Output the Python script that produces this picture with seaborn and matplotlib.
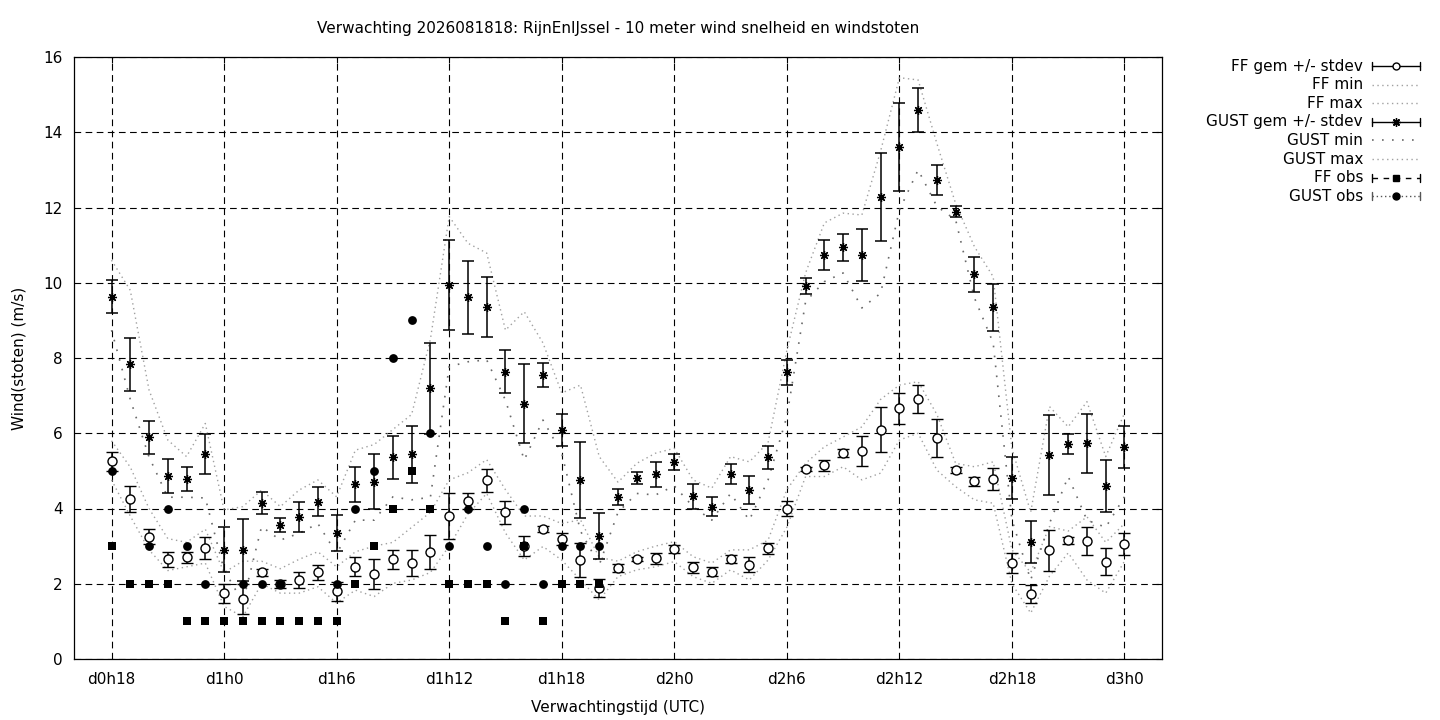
"""
Wind forecast plot: 10 m wind speed and gusts, ensemble mean +/- stdev, min/max and observations.
"""

import numpy as np
import pandas as pd
import matplotlib
matplotlib.use("Agg")
import matplotlib.pyplot as plt
from matplotlib.lines import Line2D
import seaborn as sns

nan = np.nan

# forecast hours (hours after d0h0)
hours = list(range(18, 73))
tick_hours = [18, 24, 30, 36, 42, 48, 54, 60, 66, 72]
tick_labels = ["d0h18", "d1h0", "d1h6", "d1h12", "d1h18", "d2h0", "d2h6", "d2h12", "d2h18", "d3h0"]

ff_mean = [5.25, 4.25, 3.25, 2.65, 2.7, 2.95, 1.75, 1.6, 2.3, 2.0,
           2.1, 2.3, 1.8, 2.45, 2.25, 2.65, 2.55, 2.85, 3.8, 4.2,
           4.75, 3.9, 3.0, 3.45, 3.19, 2.63, 1.89, 2.42, 2.66, 2.68,
           2.92, 2.44, 2.32, 2.66, 2.5, 2.94, 3.99, 5.05, 5.15, 5.47,
           5.53, 6.09, 6.66, 6.9, 5.87, 5.02, 4.73, 4.78, 2.55, 1.73,
           2.89, 3.15, 3.13, 2.58, 3.06]
ff_sd = [0.25, 0.35, 0.2, 0.2, 0.15, 0.3, 0.25, 0.4, 0.1, 0.1,
         0.2, 0.2, 0.25, 0.25, 0.4, 0.25, 0.35, 0.45, 0.6, 0.2,
         0.3, 0.3, 0.27, 0.08, 0.15, 0.45, 0.24, 0.1, 0.05, 0.15,
         0.1, 0.15, 0.12, 0.1, 0.2, 0.15, 0.2, 0.06, 0.15, 0.1,
         0.4, 0.6, 0.42, 0.37, 0.5, 0.08, 0.12, 0.3, 0.27, 0.25,
         0.55, 0.1, 0.37, 0.36, 0.3]
ff_min = [4.76, 3.8, 2.9, 2.35, 2.45, 2.55, 1.4, 1.12, 2.0, 1.75,
          1.75, 1.92, 1.49, 1.83, 1.66, 2.01, 2.1, 2.3, 3.0, 3.85,
          4.4, 3.35, 2.63, 2.99, 2.63, 2.1, 1.57, 2.19, 2.37, 2.45,
          2.59, 2.19, 2.01, 2.37, 2.1, 2.63, 3.5, 4.85, 4.85, 5.11,
          4.76, 4.94, 5.82, 6.0, 5.02, 4.58, 4.23, 4.14, 2.0, 1.22,
          2.2, 2.82, 2.1, 1.75, 2.6]
ff_max = [5.8, 5.1, 4.0, 3.2, 3.1, 3.45, 2.3, 2.6, 2.6, 2.4,
          2.65, 2.85, 2.45, 2.85, 3.0, 3.1, 3.5, 3.9, 4.76, 4.95,
          5.3, 4.5, 3.8, 3.8, 3.6, 3.7, 2.7, 2.6, 2.85, 3.0,
          3.12, 2.72, 2.55, 2.9, 2.9, 3.16, 4.5, 5.2, 5.64, 5.9,
          6.17, 6.9, 7.28, 7.37, 6.5, 5.2, 5.11, 5.24, 2.9, 2.3,
          3.52, 3.4, 3.78, 3.1, 3.6]

gust_mean = [9.63, 7.83, 5.89, 4.86, 4.78, 5.45, 2.9, 2.9, 4.14, 3.56,
             3.77, 4.18, 3.36, 4.64, 4.71, 5.36, 5.44, 7.19, 9.94, 9.61,
             9.35, 7.64, 6.79, 7.55, 6.09, 4.76, 3.27, 4.31, 4.8, 4.91,
             5.23, 4.33, 4.05, 4.92, 4.49, 5.36, 7.62, 9.91, 10.74, 10.94,
             10.74, 12.29, 13.6, 14.59, 12.73, 11.89, 10.22, 9.35, 4.81, 3.1,
             5.42, 5.71, 5.73, 4.6, 5.63]
gust_sd = [0.44, 0.71, 0.44, 0.45, 0.32, 0.53, 0.6, 0.83, 0.29, 0.19,
           0.4, 0.38, 0.48, 0.47, 0.73, 0.58, 0.75, 1.2, 1.2, 0.97,
           0.8, 0.58, 1.06, 0.33, 0.43, 1.0, 0.6, 0.21, 0.16, 0.33,
           0.22, 0.33, 0.25, 0.26, 0.37, 0.3, 0.34, 0.22, 0.4, 0.35,
           0.69, 1.17, 1.17, 0.58, 0.41, 0.15, 0.47, 0.62, 0.55, 0.56,
           1.06, 0.27, 0.78, 0.7, 0.55]
gust_min = [8.74, 6.9, 5.37, 4.3, 4.3, 4.28, 2.37, 1.5, 3.52, 3.16,
            3.34, 3.6, 2.8, 3.69, 3.69, 4.31, 4.23, 4.3, 7.77, 7.9,
            7.95, 6.88, 5.29, 6.35, 5.47, 3.4, 2.5, 3.9, 4.4, 4.36,
            4.6, 4.05, 3.69, 4.4, 3.69, 4.76, 6.44, 9.5, 10.03, 10.26,
            9.33, 9.72, 11.93, 13.0, 12.03, 11.67, 9.6, 8.4, 3.7, 2.1,
            3.6, 4.85, 3.69, 3.5, 4.31]
gust_max = [10.6, 9.8, 7.15, 5.82, 5.38, 6.26, 3.96, 4.05, 4.49, 4.05,
            4.49, 4.76, 4.31, 5.55, 5.7, 6.1, 6.5, 8.5, 11.76, 11.05,
            10.79, 8.74, 9.23, 8.4, 7.07, 7.28, 5.38, 4.7, 5.2, 5.47,
            5.6, 4.76, 4.54, 5.38, 5.24, 5.75, 8.2, 10.26, 11.59, 11.85,
            11.8, 13.5, 15.45, 15.39, 13.7, 12.1, 10.96, 10.16, 5.6, 3.9,
            6.71, 6.17, 6.84, 5.38, 6.53]

# observations only up to the analysis time
obs_hours = list(range(18, 45))
ff_obs = [3, 2, 2, 2, 1, 1, 1, 1, 1, 1, 1, 1, 1, 2, 3, 4, 5, 4, 2, 2, 2, 1, 3, 1, 2, 2, 2]
gust_obs = [5, nan, 3, 4, 3, 2, nan, 2, 2, 2, nan, nan, 2, 4, 5, 8, 9, 6, 3, 4, 3, 2, 4, 2, 3, 3, 3]

df = pd.DataFrame({"hour": hours, "ff_mean": ff_mean, "ff_sd": ff_sd,
                   "ff_min": ff_min, "ff_max": ff_max,
                   "gust_mean": gust_mean, "gust_sd": gust_sd,
                   "gust_min": gust_min, "gust_max": gust_max})
obs = pd.DataFrame({"hour": obs_hours, "ff_obs": ff_obs, "gust_obs": gust_obs})

sns.set_style("white")
plt.rcParams["font.family"] = ["DejaVu Sans"]
plt.rcParams["text.color"] = "black"
plt.rcParams["axes.labelcolor"] = "black"
plt.rcParams["xtick.color"] = "black"
plt.rcParams["ytick.color"] = "black"

fig = plt.figure(figsize=(14.4, 7.2), dpi=100)
ax = fig.add_axes([74 / 1440, 1 - 659 / 720, 1088 / 1440, 602 / 720])

light = "#a0a0a0"
dense = (0, (1, 2.5))
sparse = (0, (1, 5))
asterisk = (8, 2, 0)

sns.lineplot(data=df, x="hour", y="ff_min", ax=ax, color=light, lw=1.0, linestyle=dense, estimator=None)
sns.lineplot(data=df, x="hour", y="ff_max", ax=ax, color=light, lw=1.0, linestyle=dense, estimator=None)
sns.lineplot(data=df, x="hour", y="gust_min", ax=ax, color="#6a6a6a", lw=1.2, linestyle=sparse, estimator=None)
sns.lineplot(data=df, x="hour", y="gust_max", ax=ax, color=light, lw=1.0, linestyle=dense, estimator=None)

ax.errorbar(df["hour"], df["ff_mean"], yerr=df["ff_sd"], fmt="o", mfc="white", mec="black",
            mew=1.0, ms=6.5, ecolor="black", elinewidth=1.1, capsize=4.5, capthick=1.1, zorder=3)
ax.errorbar(df["hour"], df["gust_mean"], yerr=df["gust_sd"], fmt="none",
            ecolor="black", elinewidth=1.1, capsize=4.5, capthick=1.1, zorder=3)
ax.plot(df["hour"], df["gust_mean"], ls="none", marker=asterisk, ms=6.5, mec="black", mew=0.9, zorder=4)

sns.scatterplot(data=obs, x="hour", y="ff_obs", ax=ax, marker="s", color="black", s=36, linewidth=0, zorder=5)
sns.scatterplot(data=obs, x="hour", y="gust_obs", ax=ax, marker="o", color="black", s=40, linewidth=0, zorder=5)

ax.set_xlim(16, 74)
ax.set_ylim(0, 16)
ax.set_xticks(tick_hours)
ax.set_xticklabels(tick_labels)
ax.set_yticks(range(0, 17, 2))
ax.grid(True, color="black", linestyle=(0, (6, 4)), linewidth=0.8)
ax.tick_params(direction="in", length=4.5, width=0.8, top=True, right=True,
               labelsize=11, colors="black")
ax.tick_params(axis="y", pad=8)
ax.tick_params(axis="x", pad=9)
for sp in ax.spines.values():
    sp.set_color("black")
    sp.set_linewidth(0.9)

ax.set_xlabel("Verwachtingstijd (UTC)", fontsize=11, labelpad=10)
ax.set_ylabel("Wind(stoten) (m/s)", fontsize=11, labelpad=12)
fig.text(618 / 1440, 1 - 29 / 720, "Verwachting 2026081818: RijnEnIJssel - 10 meter wind snelheid en windstoten",
         ha="center", va="center", fontsize=11)

# gnuplot style key, right aligned text with sample to the right
entries = [
    ("FF gem +/- stdev", dict(color="black", ls="-", lw=1.0), dict(marker="o", mfc="white", mec="black", ms=5), True),
    ("FF min", dict(color=light, ls=dense, lw=1.0), None, False),
    ("FF max", dict(color=light, ls=dense, lw=1.0), None, False),
    ("GUST gem +/- stdev", dict(color="black", ls="-", lw=1.0), dict(marker=asterisk, mec="black", ms=6), True),
    ("GUST min", dict(color="#6a6a6a", ls=sparse, lw=1.2), None, False),
    ("GUST max", dict(color=light, ls=dense, lw=1.0), None, False),
    ("FF obs", dict(color="black", ls=(0, (4, 4)), lw=1.0), dict(marker="s", mfc="black", mec="black", ms=5), True),
    ("GUST obs", dict(color="#555555", ls=(0, (1, 2)), lw=1.0), dict(marker="o", mfc="black", mec="black", ms=5), True),
]
x0, x1 = 1372 / 1440, 1420 / 1440
for i, (label, line_kw, mark_kw, caps) in enumerate(entries):
    y = 1 - (66 + i * 18.6) / 720
    fig.text(1363 / 1440, y, label, ha="right", va="center", fontsize=11)
    fig.add_artist(Line2D([x0, x1], [y, y], transform=fig.transFigure, **line_kw))
    if caps:
        h = 4 / 720
        for xc in (x0, x1):
            fig.add_artist(Line2D([xc, xc], [y - h, y + h], transform=fig.transFigure,
                                  color=line_kw["color"], lw=1.0))
    if mark_kw:
        fig.add_artist(Line2D([(x0 + x1) / 2], [y], transform=fig.transFigure, ls="none", **mark_kw))

fig.savefig("out.png", dpi=100)
